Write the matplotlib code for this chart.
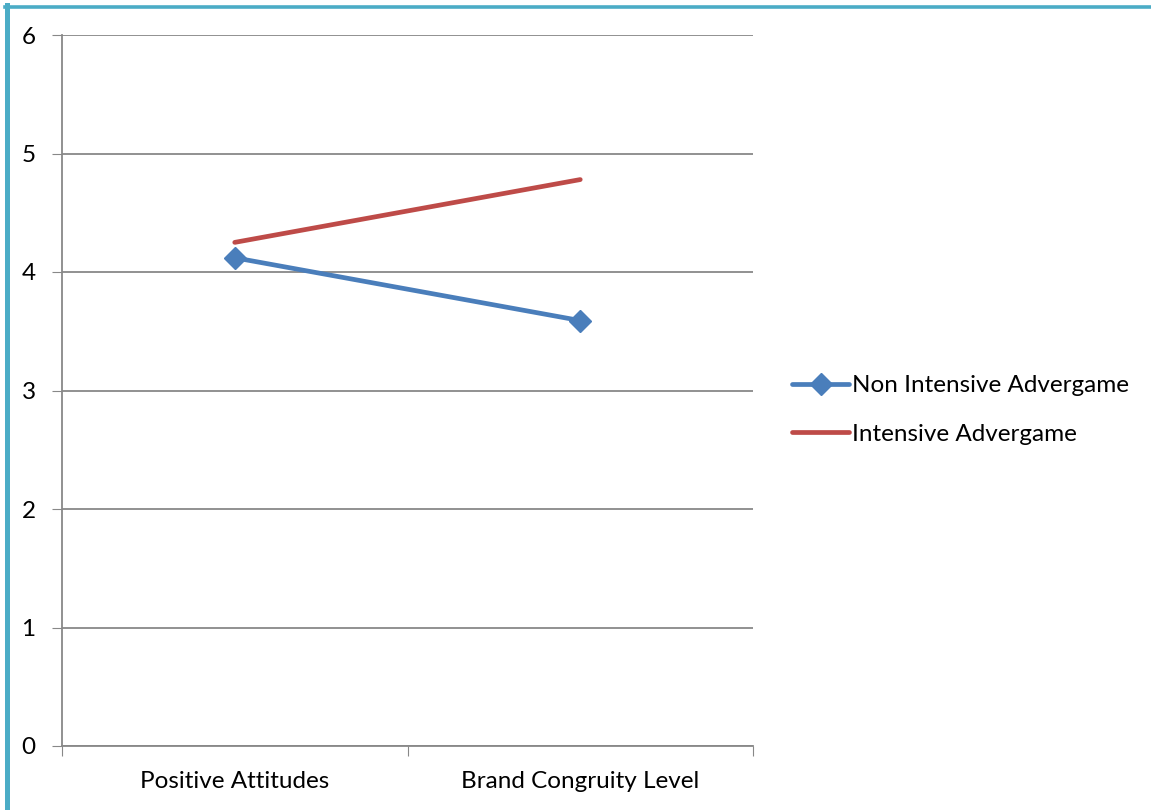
import matplotlib
matplotlib.use("Agg")
import matplotlib.pyplot as plt
from matplotlib.lines import Line2D

categories = ["Positive Attitudes", "Brand Congruity Level"]
non_intensive = [4.12, 3.59]
intensive = [4.25, 4.78]
yticks = [0, 1, 2, 3, 4, 5, 6]

plt.rcParams['font.family'] = ['Lato', 'DejaVu Sans']

W, H = 1151, 810
fig = plt.figure(figsize=(W/100, H/100), dpi=100)
ax = fig.add_axes([62/W, (H-746)/H, (753-62)/W, (746-35)/H])

x = list(range(len(categories)))
ax.plot(x, non_intensive, color="#4A7EBB", lw=3.4, marker="D", ms=11,
        solid_capstyle="round", label="Non Intensive Advergame")
ax.plot(x, intensive, color="#BE4B48", lw=3.4, solid_capstyle="round",
        label="Intensive Advergame")

FS = 17.5
ax.set_xlim(-0.5, 1.5)
ax.set_ylim(0, 6)
ax.set_yticks(yticks)
ax.set_yticklabels([str(v) for v in yticks], fontsize=FS)
ax.set_xticks([-0.5, 0.5, 1.5])
ax.set_xticklabels([])
ax.set_xticks(x, minor=True)
ax.set_xticklabels(categories, minor=True, fontsize=FS)
ax.tick_params(axis='x', which='minor', length=0, pad=18)
ax.tick_params(axis='x', which='major', length=7, color="#888888", direction='out')
ax.tick_params(axis='y', length=7, color="#888888", direction='out', pad=12)
ax.grid(axis='y', color="#888888", lw=1.3)
ax.set_axisbelow(True)
for s in ['top', 'right']:
    ax.spines[s].set_visible(False)
for s in ['left', 'bottom']:
    ax.spines[s].set_color("#888888")
    ax.spines[s].set_linewidth(1.3)

leg = ax.legend(loc='center left', bbox_to_anchor=(792/W, (H-410)/H),
                bbox_transform=fig.transFigure, frameon=False, fontsize=FS,
                handlelength=2.35, handletextpad=0.1, labelspacing=1.12,
                borderaxespad=0, borderpad=0)

# teal border
bc = "#4BACC6"
fig.add_artist(Line2D([5/W, 1], [(H-6.5)/H, (H-6.5)/H], color=bc, lw=2.6,
                      transform=fig.transFigure))
fig.add_artist(Line2D([7.5/W, 7.5/W], [0, (H-5)/H], color=bc, lw=3.6,
                      transform=fig.transFigure))

fig.savefig("out.png", dpi=100)
